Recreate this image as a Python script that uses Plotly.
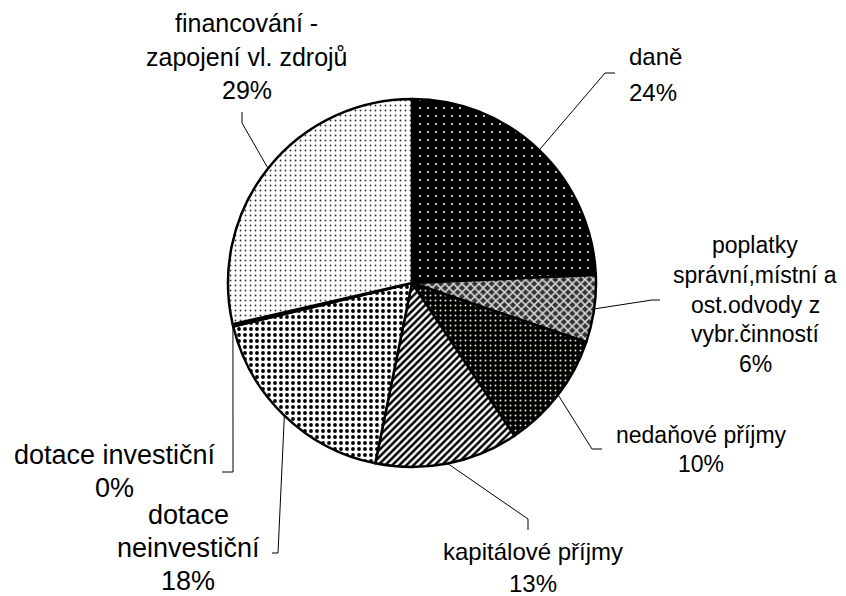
import math
import plotly.graph_objects as go

# ---- data ----
categories = ["daně",
              "poplatky správní,místní a ost.odvody z vybr.činností",
              "nedaňové příjmy",
              "kapitálové příjmy",
              "dotace neinvestiční",
              "dotace investiční",
              "financování - zapojení vl. zdrojů"]
values = [24.3, 5.9, 10.4, 12.6, 18.0, 0.2, 28.6]
label_lines = [["daně"],
               ["poplatky", "správní,místní a", "ost.odvody z", "vybr.činností"],
               ["nedaňové příjmy"],
               ["kapitálové příjmy"],
               ["dotace", "neinvestiční"],
               ["dotace investiční"],
               ["financování -", "zapojení vl. zdrojů"]]

# ---- layout helpers (window pixel -> paper); page body has an 8px margin ----
OFF = 8
W, H = 846 - OFF, 596 - OFF
CX, CY, R = 412, 283, 184


def px(x):
    return (x - OFF) / W


def py(y):
    return 1 - (y - OFF) / H


patterns = [
    dict(shape=".", bgcolor="black", fgcolor="white", size=8, solidity=0.05),
    dict(shape="x", bgcolor="#333333", fgcolor="#d8d8d8", size=6, solidity=0.45),
    dict(shape=".", bgcolor="black", fgcolor="#e8e8c8", size=5, solidity=0.12),
    dict(shape="/", bgcolor="white", fgcolor="black", size=5, solidity=0.5),
    dict(shape=".", bgcolor="white", fgcolor="black", size=6, solidity=0.32),
    dict(shape="", bgcolor="white", fgcolor="black", size=6, solidity=0.3),
    dict(shape=".", bgcolor="white", fgcolor="#333333", size=5, solidity=0.11),
]
base_colors = ["black", "#666666", "black", "#888888", "#bbbbbb", "white", "#eeeeee"]

fig = go.Figure(go.Pie(
    labels=categories,
    values=values,
    sort=False,
    direction="clockwise",
    rotation=0,
    textinfo="none",
    hoverinfo="label+percent",
    showlegend=False,
    marker=dict(
        colors=base_colors,
        line=dict(color="black", width=2.5),
        pattern=dict(
            shape=[p["shape"] for p in patterns],
            bgcolor=[p["bgcolor"] for p in patterns],
            fgcolor=[p["fgcolor"] for p in patterns],
            size=[p["size"] for p in patterns],
            solidity=[p["solidity"] for p in patterns],
            fillmode="replace",
        ),
    ),
    domain=dict(x=[px(CX - R), px(CX + R)], y=[py(CY + R), py(CY - R)]),
))

# label placement (window pixels): x, anchor, baselines, font size
label_layout = [
    dict(x=627, anchor="left", base=[65, 101], fs=24),
    dict(x=755, anchor="center", base=[253, 283, 313, 342, 372], fs=23),
    dict(x=701, anchor="center", base=[443, 472], fs=23),
    dict(x=533, anchor="center", base=[560, 592], fs=24),
    dict(x=188, anchor="center", base=[525, 558, 591], fs=27),
    dict(x=115, anchor="center", base=[465, 498], fs=27),
    dict(x=247, anchor="center", base=[32, 66, 99], fs=25),
]
# leader line elbows (window pixels)
elbows = [
    [(605, 73), (615, 73)],
    [(652, 300), (660, 300)],
    [(592, 449), (602, 449)],
    [(528, 519), (528, 530)],
    [(278, 553), (272, 553)],
    [(233, 472), (222, 472)],
    [(242, 123), (242, 112)],
]

total = sum(values)
cum = 0.0
annotations = []
shapes = []
for i, v in enumerate(values):
    pct = f"{int(v / total * 100 + 0.5)}%"
    lines = label_lines[i] + [pct]
    lay = label_layout[i]
    for txt, b in zip(lines, lay["base"]):
        annotations.append(dict(
            x=px(lay["x"]), y=py(b - 0.36 * lay["fs"]), xref="paper", yref="paper",
            text=txt, showarrow=False, xanchor=lay["anchor"], yanchor="middle",
            font=dict(family="Liberation Sans, Arial, sans-serif", size=lay["fs"], color="black"),
        ))
    theta = 2 * math.pi * (cum + v / 2) / total
    sx = CX + R * math.sin(theta)
    sy = CY - R * math.cos(theta)
    pts = [(sx, sy)] + elbows[i]
    path = "M " + " L ".join(f"{px(x)},{py(y)}" for x, y in pts)
    shapes.append(dict(type="path", path=path, xref="paper", yref="paper",
                       line=dict(color="black", width=1)))
    cum += v

fig.update_layout(
    width=W, height=H,
    margin=dict(l=0, r=0, t=0, b=0),
    paper_bgcolor="white",
    plot_bgcolor="white",
    annotations=annotations,
    shapes=shapes,
)

fig.write_html("out.html")
